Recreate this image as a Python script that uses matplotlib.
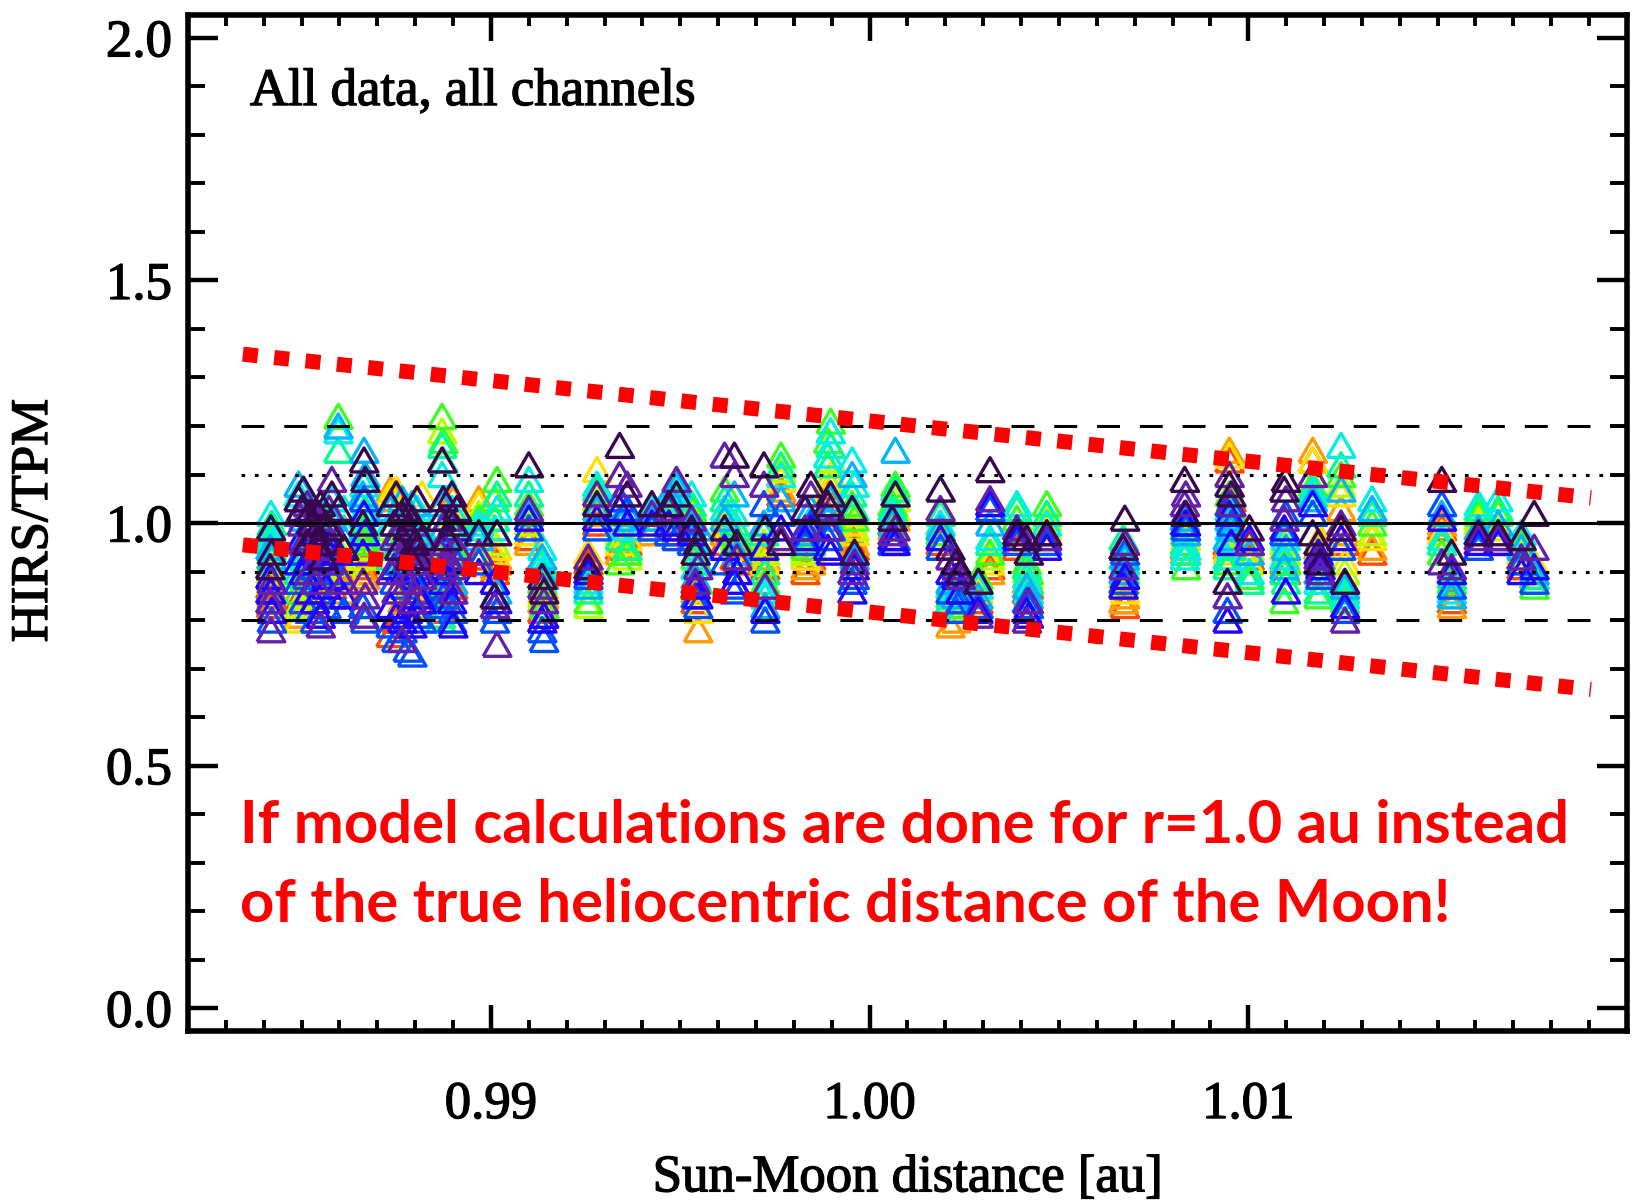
import numpy as np
import matplotlib
matplotlib.use('Agg')
import matplotlib.pyplot as plt
import matplotlib.patheffects as pe
from matplotlib.ticker import MultipleLocator, FixedLocator

plt.rcParams['font.family'] = ['Liberation Serif', 'DejaVu Serif']

nan = np.nan

# channel colours, long-wave (red) to short-wave (dark purple)
channel_colors = ['#ff4a00', '#ff9a00', '#ffe000', '#b8ff00', '#3cff20', '#00ff90',
                  '#00f0e8', '#00b4ff', '#0050ff', '#2200ff', '#6420a8', '#38084e']

# Sun-Moon distance of each lunar intrusion [au]
distance = [
    0.98419, 0.98421, 0.98417,
    0.98492, 0.98505, 0.98520, 0.98535, 0.98550, 0.98565, 0.98580, 0.98597, 0.98612,
    0.98527, 0.98558, 0.98542, 0.98500, 0.98515, 0.98545, 0.98573,
    0.98665, 0.98668, 0.98662,
    0.98735, 0.98750, 0.98766, 0.98780, 0.98792, 0.98805, 0.98818, 0.98758, 0.98786,
    0.98745, 0.98772, 0.98798, 0.98810,
    0.98871, 0.98874, 0.98868,
    0.98897, 0.98900, 0.98885, 0.98910,
    0.98968,
    0.99016, 0.99010,
    0.99100, 0.99135, 0.99140,
    0.99257, 0.99280, 0.99340, 0.99360,
    0.99425,
    0.99470, 0.99490,
    0.99547, 0.99540, 0.99530,
    0.99617, 0.99643, 0.99650,
    0.99721, 0.99724,
    0.99766,
    0.99845, 0.99830,
    0.99897, 0.99890,
    0.99954, 0.99960,
    1.00068, 1.00060,
    1.00187,
    1.00213, 1.00228, 1.00240,
    1.00287,
    1.00318,
    1.00389,
    1.00415, 1.00420,
    1.00468,
    1.00674, 1.00670,
    1.00832, 1.00835,
    1.00950, 1.00945, 1.00955,
    1.01003,
    1.01099, 1.01095,
    1.01170, 1.01185, 1.01190,
    1.01245, 1.01255,
    1.01327,
    1.01511, 1.01537,
    1.01608,
    1.01660,
    1.01721, 1.01755,
]

# HIRS/TPM ratio of every channel (same order as channel_colors) per intrusion
ratio = [
    [0.83, 0.82, 0.86, 0.88, 0.93, 0.97, 1.02, 0.91, 0.84, 0.86, 0.78, 0.99],
    [0.85, 0.84, 0.89, 0.91, 0.95, 1.00, 0.96, 0.93, 0.80, 0.82, 0.88, 0.94],
    [0.87, 0.86, 0.90, 0.92, 0.97, 0.99, 0.98, 0.95, 0.86, 0.89, 0.84, 0.91],
    [0.84, 0.81, 0.80, 0.83, 0.86, 0.90, 1.06, 1.08, 0.88, 0.92, 1.02, 1.05],
    [0.86, 0.83, 0.84, 0.85, 0.89, 0.93, 0.97, 1.01, 0.84, 0.90, 0.96, 1.07],
    [0.88, 0.87, 0.86, 0.89, 0.92, 0.95, 1.00, 1.03, 0.82, 0.86, 0.90, 1.02],
    [0.85, 0.84, 0.88, 0.87, 0.94, 0.98, 1.02, 0.96, 0.80, 0.84, 0.88, 0.98],
    [0.89, 0.86, 0.90, 0.91, 0.95, 1.00, 1.04, 0.99, 0.86, 0.81, 0.79, 1.04],
    [0.90, 0.88, 0.91, 0.93, 0.97, 1.01, 0.98, 0.94, 0.83, 0.87, 0.92, 1.00],
    [0.87, 0.85, 0.89, 0.92, 0.96, 1.02, 1.05, 1.01, 0.85, 0.89, 1.09, 1.06],
    [0.91, 0.89, 0.93, 0.95, 1.22, 1.15, 1.19, 1.20, 0.90, 0.94, 0.97, 1.03],
    [0.88, 0.86, 0.90, 0.92, 0.95, 0.99, 1.03, 0.97, 0.82, 0.85, 0.88, 0.95],
    [nan, nan, nan, nan, nan, nan, nan, nan, 0.91, 0.94, 0.97, 1.00],
    [nan, nan, nan, nan, nan, nan, nan, nan, 0.93, 0.96, 0.99, 0.93],
    [nan, nan, nan, nan, nan, nan, nan, nan, 0.95, 0.98, 1.01, 0.96],
    [nan, nan, nan, nan, nan, nan, nan, nan, 0.94, 0.97, 1.00, 1.03],
    [nan, nan, nan, nan, nan, nan, nan, nan, 0.89, 0.92, 1.04, 0.96],
    [nan, nan, nan, nan, nan, nan, nan, nan, 0.90, 0.93, 0.95, 1.02],
    [nan, nan, nan, nan, nan, nan, nan, nan, 0.92, 0.96, 1.03, 0.99],
    [0.92, 0.90, 0.94, 0.95, 0.97, 1.00, 1.08, 1.15, 1.05, 1.02, 0.81, 1.13],
    [0.90, 0.89, 0.93, 0.96, 0.99, 1.03, 1.05, 1.10, 0.80, 0.98, 0.85, 1.09],
    [0.91, 0.88, 0.95, 0.93, 0.96, 0.98, 1.02, 1.06, 0.83, 0.94, 0.88, 1.00],
    [0.77, 1.07, 1.06, 0.99, 0.96, 0.93, 1.00, 1.03, 0.79, 0.83, 0.90, 1.04],
    [0.80, 1.05, 1.07, 1.02, 0.98, 0.95, 0.97, 0.92, 0.76, 0.81, 0.86, 1.06],
    [0.82, 0.84, 0.88, 0.90, 0.93, 0.97, 1.02, 1.05, 0.78, 0.80, 0.76, 1.02],
    [0.84, 0.86, 0.90, 0.92, 0.94, 0.98, 1.00, 0.96, 0.74, 0.82, 0.88, 0.99],
    [0.85, 0.83, 0.87, 0.89, 0.92, 0.96, 0.99, 1.04, 0.73, 0.79, 0.84, 1.01],
    [0.86, 0.88, 0.91, 0.93, 0.97, 1.00, 1.03, 0.98, 0.81, 0.85, 0.92, 1.05],
    [0.83, 0.87, 1.06, 0.95, 0.96, 0.99, 0.94, 0.93, 0.80, 0.84, 0.89, 0.97],
    [nan, nan, nan, nan, nan, nan, nan, nan, 0.92, 0.95, 0.98, 0.95],
    [nan, nan, nan, nan, nan, nan, nan, nan, 0.90, 0.94, 0.97, 0.93],
    [nan, nan, nan, nan, nan, nan, nan, nan, 0.88, 0.91, 0.97, 1.00],
    [nan, nan, nan, nan, nan, nan, nan, nan, 0.87, 0.90, 0.94, 1.03],
    [nan, nan, nan, nan, nan, nan, nan, nan, 0.91, 0.89, 1.00, 0.96],
    [nan, nan, nan, nan, nan, nan, nan, nan, 0.86, 0.92, 0.95, 0.93],
    [0.86, 0.88, 0.92, 1.19, 1.22, 1.16, 1.10, 1.04, 0.83, 0.90, 0.96, 1.13],
    [0.84, 0.87, 0.90, 0.93, 1.17, 1.13, 0.96, 0.99, 0.85, 0.88, 0.92, 1.05],
    [0.82, 0.85, 0.89, 0.90, 0.81, 0.86, 0.80, 0.95, 0.87, 0.91, 0.94, 1.01],
    [0.86, 0.88, 1.02, 0.92, 0.96, 0.99, 1.03, 0.94, 0.80, 0.84, 0.91, 1.06],
    [0.87, 1.05, 0.90, 0.91, 0.95, 0.98, 0.93, 0.88, 0.82, 0.79, 0.86, 1.00],
    [nan, nan, nan, nan, nan, nan, nan, nan, 0.90, 0.93, 1.01, 0.97],
    [nan, nan, nan, nan, nan, nan, nan, nan, 0.92, 0.99, 0.95, 1.03],
    [0.93, 1.05, 1.04, 1.02, 1.01, 0.99, 1.00, 0.97, 0.92, 0.90, 0.94, 0.98],
    [0.92, 0.93, 0.95, 0.98, 1.09, 1.06, 1.03, 0.86, 0.82, 0.84, 0.75, 0.98],
    [0.90, 0.91, 0.94, 0.96, 1.05, 1.01, 0.99, 0.85, 0.80, 0.88, 0.83, 0.85],
    [0.97, 0.96, 0.98, 1.00, 1.04, 1.06, 1.09, 1.02, 0.99, 1.01, 1.03, 1.12],
    [0.82, 0.84, 0.86, 0.85, 0.88, 0.92, 0.95, 0.93, 0.78, 0.80, 0.87, 0.89],
    [0.83, 0.85, 0.87, 0.86, 0.83, 0.90, 0.91, 0.89, 0.76, 0.81, 0.84, 0.86],
    [0.92, 0.93, 0.94, 0.83, 0.84, 0.86, 0.88, 0.87, 0.89, 0.90, 0.93, 0.91],
    [1.00, 1.02, 1.11, 1.05, 1.04, 1.07, 1.08, 1.03, 0.99, 1.01, 1.06, 1.04],
    [0.95, 0.94, 0.96, 0.98, 0.92, 0.97, 1.00, 1.01, 1.05, 1.03, 1.10, 1.16],
    [0.96, 0.95, 0.97, 0.93, 0.94, 0.95, 0.99, 1.02, 1.03, 1.00, 1.08, 1.06],
    [0.99, 0.98, 1.00, 0.99, 1.01, 1.02, 1.03, 1.01, 0.99, 1.00, 1.02, 1.04],
    [0.99, 0.98, 1.00, 1.01, 1.02, 1.03, 1.05, 1.06, 0.98, 1.00, 1.03, 1.04],
    [0.98, 0.97, 1.00, 1.02, 1.04, 1.05, 1.07, 1.08, 0.97, 0.99, 1.09, 1.06],
    [0.82, 0.78, 0.82, 0.85, 0.88, 0.92, 0.95, 0.99, 0.83, 0.85, 0.91, 0.96],
    [0.84, 0.86, 0.88, 0.87, 0.93, 0.97, 0.91, 0.89, 0.85, 0.87, 0.88, 0.94],
    [0.97, 0.99, 1.00, 1.02, 1.03, 1.04, 1.06, 1.00, 0.96, 0.98, 1.01, 0.99],
    [0.96, 0.98, 1.00, 1.02, 1.07, 1.05, 1.03, 1.01, 0.92, 0.95, 1.14, 0.99],
    [0.93, 0.95, 0.96, 0.97, 0.98, 1.00, 1.02, 1.06, 0.86, 0.88, 1.10, 1.14],
    [0.92, 0.94, 0.95, 0.96, 0.97, 0.99, 0.96, 0.94, 0.87, 0.90, 0.93, 0.96],
    [0.90, 0.92, 0.94, 0.96, 0.95, 0.98, 0.86, 1.00, 1.04, 0.95, 1.08, 1.12],
    [0.91, 0.93, 0.92, 0.94, 0.88, 0.90, 0.85, 0.83, 0.80, 0.82, 0.87, 0.99],
    [1.06, 1.07, 1.09, 1.11, 1.14, 1.12, 1.10, 1.05, 1.02, 0.99, 0.97, 0.96],
    [0.93, 0.92, 0.94, 0.95, 0.96, 0.97, 1.01, 1.03, 1.00, 0.99, 1.06, 1.08],
    [0.90, 0.91, 0.93, 0.94, 0.95, 0.96, 0.97, 0.98, 0.96, 0.97, 0.99, 1.03],
    [1.04, 1.08, 1.10, 1.13, 1.21, 1.16, 1.19, 1.05, 0.99, 0.94, 1.03, 1.06],
    [1.02, 1.06, 1.07, 1.09, 1.17, 1.12, 1.14, 1.01, 0.97, 0.95, 0.99, 1.04],
    [0.97, 0.99, 1.00, 1.02, 1.04, 1.06, 1.13, 1.10, 0.88, 0.86, 0.90, 1.03],
    [0.95, 0.96, 0.98, 0.99, 1.01, 1.03, 1.08, 0.93, 0.89, 0.91, 0.92, 0.94],
    [1.02, 1.01, 1.03, 1.05, 1.08, 1.07, 1.06, 1.15, 0.97, 0.96, 0.99, 1.06],
    [1.00, 0.99, 1.01, 1.02, 1.04, 1.03, 1.02, 1.00, 0.96, 0.97, 0.98, 1.01],
    [0.96, 0.97, 0.99, 1.00, 0.98, 1.02, 1.00, 0.99, 0.95, 0.97, 1.03, 1.07],
    [0.84, 0.79, 0.82, 0.83, 0.85, 0.87, 0.84, 0.88, 0.86, 0.90, 0.93, 0.95],
    [0.83, 0.80, 0.84, 0.82, 0.86, 0.88, 0.86, 0.85, 0.82, 0.89, 0.91, 0.92],
    [0.87, 0.86, 0.88, 0.85, 0.83, 0.84, 0.82, 0.87, 0.84, 0.86, 0.89, 0.90],
    [0.84, 0.83, 0.86, 0.87, 0.89, 0.88, 0.87, 0.85, 0.83, 0.82, 0.81, 0.88],
    [0.91, 0.90, 0.92, 0.93, 0.94, 0.96, 0.97, 1.00, 1.03, 1.04, 1.05, 1.11],
    [0.95, 0.96, 0.97, 0.98, 1.01, 1.03, 1.04, 0.99, 0.96, 0.97, 0.99, 0.98],
    [0.86, 0.88, 0.90, 0.91, 0.92, 0.91, 0.89, 0.87, 0.84, 0.82, 0.80, 0.97],
    [0.87, 0.86, 0.89, 0.88, 0.90, 0.88, 0.86, 0.85, 0.83, 0.81, 0.84, 0.94],
    [0.97, 0.98, 0.99, 1.01, 1.04, 1.02, 1.00, 0.98, 0.96, 0.95, 0.97, 0.98],
    [0.83, 0.85, 0.86, 0.88, 0.90, 0.92, 0.91, 0.93, 0.94, 0.89, 0.96, 1.01],
    [0.84, 0.84, 0.87, 0.89, 0.95, 0.97, 0.93, 0.90, 0.88, 0.87, 0.91, 0.95],
    [0.95, 0.94, 0.96, 0.98, 0.99, 0.96, 0.93, 1.01, 1.00, 1.02, 1.04, 1.09],
    [0.94, 0.95, 0.97, 0.95, 0.91, 0.94, 0.95, 0.98, 0.99, 1.00, 1.06, 1.02],
    [1.13, 1.15, 1.14, 1.10, 1.06, 1.03, 0.99, 1.01, 1.04, 1.02, 1.10, 1.08],
    [0.96, 0.95, 0.94, 0.93, 0.92, 0.91, 0.93, 0.97, 0.82, 0.80, 0.85, 0.88],
    [1.05, 1.03, 1.01, 0.98, 0.96, 0.95, 0.97, 0.99, 1.00, 0.96, 1.04, 1.06],
    [0.93, 0.94, 0.95, 0.92, 0.89, 0.88, 0.90, 0.94, 0.96, 0.97, 0.96, 0.99],
    [0.90, 0.92, 0.93, 0.94, 0.92, 0.88, 0.97, 0.95, 1.02, 0.86, 1.05, 1.09],
    [0.92, 0.93, 0.95, 0.96, 0.84, 0.90, 0.93, 0.91, 0.98, 0.99, 1.01, 1.07],
    [1.13, 1.15, 1.13, 1.10, 1.08, 1.06, 1.07, 1.05, 1.02, 1.04, 1.10, 0.98],
    [0.96, 0.95, 0.94, 0.93, 0.85, 0.86, 0.88, 0.90, 0.92, 0.94, 0.93, 0.96],
    [0.97, 0.96, 0.97, 0.95, 0.90, 0.89, 0.91, 0.93, 0.89, 0.91, 0.90, 0.92],
    [0.99, 1.03, 1.06, 1.08, 1.10, 1.12, 1.16, 1.07, 0.95, 0.97, 1.00, 0.99],
    [0.96, 0.98, 0.92, 0.90, 0.84, 0.86, 0.85, 0.87, 0.82, 0.83, 0.80, 0.88],
    [0.94, 0.95, 0.97, 0.98, 1.00, 1.02, 1.05, 1.03, nan, nan, nan, nan],
    [0.99, 1.00, 0.98, 0.97, 0.94, 0.96, 0.97, 1.02, 1.04, 1.01, 0.92, 1.09],
    [0.84, 0.83, 0.85, 0.87, 0.88, 0.89, 0.86, 0.85, 0.87, 0.90, 0.91, 0.94],
    [nan, 0.98, 1.00, 1.01, 1.02, 1.03, 1.04, 0.99, 0.95, 0.96, 0.97, 0.98],
    [0.96, 0.96, 0.99, 1.00, 1.02, 1.03, 1.05, 1.00, 0.97, 0.96, 0.97, 0.98],
    [0.91, 0.92, 0.93, 0.94, 0.96, 0.97, 0.98, 0.95, 0.92, 0.90, 0.93, 0.97],
    [0.89, 0.90, 0.92, 0.91, 0.87, 0.89, 0.88, 0.90, 0.88, 0.91, 0.95, 1.02],
]

# reference levels
ref_solid = 1.0
ref_dotted = [0.9, 1.1]
ref_dashed = [0.8, 1.2]

# r^-2 envelope sketched over the data
env_x = [0.98345, 1.01905]
env_upper = [1.348, 1.052]
env_lower = [0.955, 0.657]

fig = plt.figure(figsize=(16.33, 12.04), dpi=100)
ax = fig.add_axes([0.1151, 0.1437, 0.8812, 0.8442])

dist = np.array(distance)
rat = np.array(ratio)

# open triangles, one channel after the other
tri = [(-1, -0.866), (1, -0.866), (0, 0.866), (-1, -0.866)]
for ch, col in enumerate(channel_colors):
    ok = ~np.isnan(rat[:, ch])
    ax.scatter(dist[ok], rat[ok, ch], s=20**2, marker=tri, facecolors='none',
               edgecolors=col, linewidths=2.4, zorder=2)

xl = (0.982, 1.020)
ax.plot(xl, [ref_solid, ref_solid], color='black', lw=2.2, zorder=3)
for y in ref_dotted:
    ax.plot([0.9834, xl[1]], [y, y], color='black', lw=2.2, linestyle=(0, (1.2, 3.2)), zorder=3)
for y in ref_dashed:
    ax.plot([0.9834, xl[1]], [y, y], color='black', lw=2.2, linestyle=(0, (7.5, 6.5)), zorder=3)

ax.plot(env_x, env_upper, color='red', lw=10.8, linestyle=(0, (1, 1.1)), dash_capstyle='butt', zorder=4)
ax.plot(env_x, env_lower, color='red', lw=10.8, linestyle=(0, (1, 1.1)), dash_capstyle='butt', zorder=4)

ax.set_xlim(*xl)
ax.set_ylim(-0.047, 2.048)
ax.xaxis.set_major_locator(FixedLocator([0.99, 1.00, 1.01]))
ax.xaxis.set_minor_locator(MultipleLocator(0.001))
ax.yaxis.set_major_locator(MultipleLocator(0.5))
ax.yaxis.set_minor_locator(MultipleLocator(0.1))
ax.set_xticklabels(['0.99', '1.00', '1.01'])
ax.set_yticks([0.0, 0.5, 1.0, 1.5, 2.0])
ax.set_yticklabels(['0.0', '0.5', '1.0', '1.5', '2.0'])

for sp in ax.spines.values():
    sp.set_linewidth(4)
ax.tick_params(axis='both', which='both', direction='in', top=True, right=True, labelsize=38)
ax.tick_params(axis='x', which='major', length=19, width=3.2, pad=36)
ax.tick_params(axis='x', which='minor', length=8, width=2.8)
ax.tick_params(axis='y', which='major', length=21.5, width=3.2, pad=11.5)
ax.tick_params(axis='y', which='minor', length=12, width=2.8)

# slightly heavier strokes for the serif text
heavy = [pe.withStroke(linewidth=1.0, foreground='black')]

ax.set_xlabel('Sun-Moon distance [au]', fontsize=38, path_effects=heavy)
ax.xaxis.set_label_coords(0.5, -0.145)
ax.xaxis.label.set_va('center')
ax.set_ylabel('HIRS/TPM', fontsize=38, path_effects=heavy)
ax.yaxis.set_label_coords(-0.107, 0.502)
ax.yaxis.label.set_va('center')
for lab in ax.get_xticklabels() + ax.get_yticklabels():
    lab.set_path_effects(heavy)

ax.text(0.0431, 0.911, 'All data, all channels', transform=ax.transAxes, fontsize=38,
        va='baseline', path_effects=heavy)

red_font = dict(color='#ff0000', fontsize=43, fontweight='bold', family=['Lato', 'DejaVu Sans'],
                transform=ax.transAxes, va='baseline')
ax.text(0.0361, 0.1845, 'If model calculations are done for r=1.0 au instead', **red_font)
ax.text(0.0361, 0.1077, 'of the true heliocentric distance of the Moon!', **red_font)

fig.savefig('out.png', dpi=100)
